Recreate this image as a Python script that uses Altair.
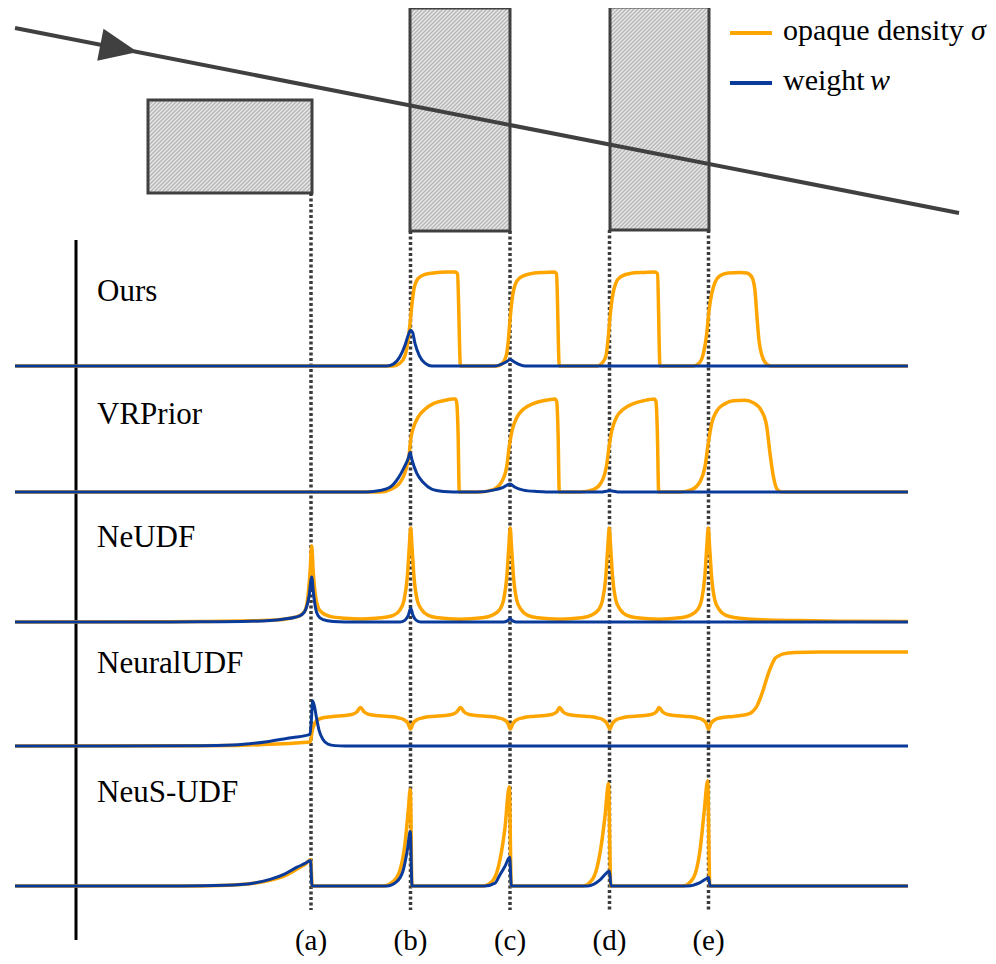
import math
import altair as alt
import pandas as pd

# ---------------- scene data (figure units: x = depth along the ray, y = height, downward) -------------
SURFACE_LABELS = ["(a)", "(b)", "(c)", "(d)", "(e)"]
SURFACE_X = [311, 410.5, 510, 609.5, 708.5]
SURFACE_BOX = [0, 1, 1, 2, 2]          # which box each surface belongs to

BOX_X0 = [148, 410, 610]
BOX_X1 = [312, 510, 709]
BOX_TOP = [100, 8, 7]
BOX_BOTTOM = [193, 231, 230]

RAY_X = [15, 959]
RAY_Y = [28, 213]
ARROW_X = 119

AXIS_X = 76
AXIS_Y = [240, 940]
GUIDE_END = 910
LABEL_BASE_Y = 950

ROW_NAMES = ["Ours", "VRPrior", "NeUDF", "NeuralUDF", "NeuS-UDF"]
ROW_BASE = [366, 492, 622, 746, 886]
ROW_LABEL_X = 97
ROW_LABEL_Y = [301, 424, 547, 673, 802]
AMP = 94  # height of unit density

LEGEND_TEXT = ["opaque density ", "weight "]
LEGEND_SYMBOL = ["σ", "w"]
LEGEND_SYMBOL_X = [971, 870]
LEGEND_Y = [33, 83]
LEGEND_LINE_X = [730, 772]
LEGEND_TEXT_X = 783

# ---------------- curves: (depth, normalized value) ----------------
OURS_SIGMA = [(15, 0), (393, 0), (400, 0.03), (405, 0.11), (408, 0.27), (410, 0.45), (412, 0.66), (414, 0.82),
              (418, 0.93), (425, 0.975), (433, 0.99), (447, 1.0), (455.5, 1.0), (457.5, 0.98), (460.5, 0),
              (497, 0), (502, 0.025), (506, 0.1), (508.3, 0.27), (510, 0.49), (512, 0.7), (515, 0.86), (520, 0.94),
              (530, 0.98), (543, 0.995), (554.5, 1.0), (556.5, 0.98), (559.3, 0),
              (597, 0), (602, 0.03), (606, 0.11), (608.3, 0.31), (610, 0.52), (612.3, 0.73), (615.7, 0.88),
              (620.7, 0.95), (630, 0.985), (643, 0.995), (655, 1.0), (657.5, 0.98), (660, 0),
              (693, 0), (699, 0.03), (703.3, 0.13), (706.7, 0.34), (709, 0.59), (711.7, 0.77), (715, 0.89),
              (720, 0.96), (728.3, 0.99), (740, 0.995), (746.7, 0.99), (751.7, 0.95), (755, 0.8), (756.7, 0.56),
              (759, 0.27), (762.3, 0.1), (766.7, 0.02), (770.7, 0), (908, 0)]
OURS_W = [(15, 0), (386.7, 0), (393.3, 0.02), (400, 0.1), (405, 0.22), (408.3, 0.33), (410.5, 0.38),
          (412.5, 0.36), (415, 0.24), (419.3, 0.11), (425, 0.03), (431.7, 0), (495, 0), (501.7, 0.02),
          (507.3, 0.05), (510, 0.07), (513.3, 0.05), (518.3, 0.02), (525, 0), (908, 0)]

VRPRIOR_SIGMA = [(15, 0), (380, 0), (390, 0.025), (400, 0.1), (406, 0.24), (409.3, 0.41), (410.7, 0.56),
                 (413.3, 0.68), (418.3, 0.8), (425, 0.88), (433.3, 0.94), (443.3, 0.97), (453.3, 0.99),
                 (455.3, 0.99), (456.7, 0.95), (458, 0.66), (459.3, 0),
                 (480, 0), (493.3, 0.025), (501.7, 0.11), (506.7, 0.27), (509.3, 0.49), (512, 0.65), (516.7, 0.79),
                 (523.3, 0.88), (533.3, 0.94), (543.3, 0.97), (555, 0.99), (556.7, 0.96), (558, 0.66), (559.3, 0),
                 (580, 0), (593.3, 0.025), (601.7, 0.11), (606.7, 0.29), (609.3, 0.5), (612, 0.66), (616.7, 0.8),
                 (623.3, 0.88), (633.3, 0.94), (643.3, 0.97), (654.3, 0.99), (656, 0.96), (657.3, 0.66), (658.7, 0),
                 (680, 0), (691.7, 0.025), (700, 0.11), (705, 0.27), (708.3, 0.52), (711.7, 0.73), (716.7, 0.86),
                 (725, 0.94), (733.3, 0.97), (745, 0.975), (753.3, 0.95), (761.7, 0.86), (766.7, 0.7), (770, 0.41),
                 (773.3, 0.17), (777.3, 0.025), (781.7, 0), (908, 0)]
VRPRIOR_W = [(15, 0), (366.7, 0), (380, 0.015), (390, 0.05), (398.3, 0.15), (404, 0.26), (408.3, 0.36),
             (410, 0.42), (412, 0.34), (416.7, 0.2), (423.3, 0.1), (431.7, 0.03), (443.3, 0.005), (453.3, 0),
             (476.7, 0), (493.3, 0.02), (503.3, 0.05), (510, 0.085), (515, 0.05), (523.3, 0.02), (536.7, 0.005),
             (546.7, 0), (600, 0), (610, 0.012), (620, 0), (908, 0)]

NEUDF_SIGMA = [(15, 0), (150, 0.002), (200, 0.005), (250, 0.012), (275, 0.02), (290, 0.04), (300, 0.07),
               (305, 0.12), (308, 0.28), (310, 0.52), (311.7, 0.81), (313.3, 0.52), (315.2, 0.3), (318, 0.16),
               (322, 0.1), (330, 0.06), (345, 0.04), (361, 0.032), (376, 0.04), (385, 0.05), (393.3, 0.07),
               (400, 0.13), (404, 0.23), (407.3, 0.48), (409.3, 0.8), (410.7, 1.0), (412, 0.8), (414, 0.48),
               (417.3, 0.23), (421.7, 0.13), (428.3, 0.07), (438.3, 0.045), (460, 0.03),
               (482, 0.045), (492, 0.07), (499.5, 0.13), (503.5, 0.23), (506.8, 0.48), (508.8, 0.8), (510.2, 1.0),
               (511.5, 0.8), (513.5, 0.48), (516.8, 0.23), (521.2, 0.13), (527.8, 0.07), (537.8, 0.045), (560, 0.03),
               (581, 0.045), (591, 0.07), (598.5, 0.13), (602.5, 0.23), (605.8, 0.48), (607.8, 0.8), (609.3, 1.0),
               (610.6, 0.8), (612.6, 0.48), (615.9, 0.23), (620.3, 0.13), (627, 0.07), (637, 0.045), (659, 0.03),
               (680, 0.045), (690, 0.07), (697.5, 0.13), (701.5, 0.23), (704.8, 0.48), (706.8, 0.8), (708.3, 1.0),
               (709.6, 0.8), (711.6, 0.48), (714.9, 0.23), (719.3, 0.13), (726, 0.07), (736, 0.045), (760, 0.025),
               (800, 0.015), (850, 0.008), (908, 0.005)]
NEUDF_W = [(15, 0), (150, 0), (200, 0.002), (250, 0.008), (283, 0.03), (295, 0.05), (302, 0.08), (306, 0.14),
           (309, 0.27), (311.7, 0.48), (313.5, 0.3), (315.5, 0.15), (318, 0.07), (323, 0.025), (333, 0.005),
           (345, 0), (400, 0), (405, 0.02), (408.3, 0.07), (410.7, 0.145), (413, 0.07), (416, 0.02), (421, 0),
           (504, 0), (508, 0.015), (510, 0.04), (512, 0.015), (516, 0), (908, 0)]

NEURALUDF_SIGMA = [(15, 0), (180, 0.002), (233, 0.005), (267, 0.018), (300, 0.035), (310.5, 0.046), (312, 0.15),
                   (313.5, 0.21), (316.7, 0.27), (323, 0.3), (333, 0.315), (345, 0.325), (353, 0.34), (357, 0.365),
                   (360.5, 0.41), (364, 0.365), (368, 0.34), (376, 0.325), (388, 0.315), (398, 0.3), (404, 0.28),
                   (408, 0.24), (410.5, 0.18), (413, 0.24), (417, 0.28), (423, 0.3), (433, 0.315), (445, 0.325),
                   (453, 0.34), (457, 0.365), (460.5, 0.41), (464, 0.365), (468, 0.34), (476, 0.325), (488, 0.315),
                   (498, 0.3), (504, 0.28), (508, 0.24), (510.3, 0.18), (513, 0.24), (517, 0.28), (523, 0.3),
                   (533, 0.315), (545, 0.325), (553, 0.34), (557, 0.365), (559.5, 0.41), (563, 0.365), (567, 0.34),
                   (575, 0.325), (587, 0.315), (597, 0.3), (603, 0.28), (607, 0.24), (609.8, 0.18), (612.5, 0.24),
                   (616.5, 0.28), (622.5, 0.3), (632.5, 0.315), (644.5, 0.325), (652.5, 0.34), (656.5, 0.365),
                   (659, 0.41), (662.5, 0.365), (666.5, 0.34), (674.5, 0.325), (686.5, 0.315), (696.5, 0.3),
                   (702.5, 0.28), (706.3, 0.24), (708.5, 0.18), (711, 0.24), (715, 0.28), (721, 0.3), (733, 0.315),
                   (746.7, 0.335), (752, 0.36), (756.7, 0.42), (760, 0.5), (763.3, 0.6), (768.3, 0.77), (772, 0.87),
                   (775, 0.93), (779, 0.96), (783.3, 0.98), (795, 0.995), (820, 1.0), (908, 1.0)]
NEURALUDF_W = [(15, 0), (200, 0.002), (233, 0.01), (267, 0.046), (293, 0.09), (305, 0.11), (310, 0.125),
               (311.5, 0.3), (312.7, 0.48), (314.5, 0.42), (316.5, 0.3), (319, 0.17), (323, 0.07), (328, 0.02),
               (335, 0.004), (345, 0), (908, 0)]

NEUSUDF_SIGMA = [(15, 0), (180, 0), (220, 0.006), (250, 0.025), (270, 0.06), (285, 0.11), (297, 0.18),
                 (305, 0.23), (310.7, 0.28), (312.2, 0), (383, 0), (393, 0.046), (400, 0.17), (405, 0.45),
                 (408.3, 0.81), (410.3, 1.03), (412, 0), (483, 0), (493, 0.06), (500, 0.28), (505, 0.62),
                 (509.3, 1.057), (511.3, 0), (583, 0), (593, 0.08), (600, 0.35), (605, 0.74), (608.5, 1.09),
                 (610.8, 0), (683, 0), (693, 0.08), (700, 0.38), (704, 0.77), (707.7, 1.12), (709.8, 0), (908, 0)]
NEUSUDF_W = [(15, 0), (180, 0), (225, 0.008), (253, 0.03), (270, 0.07), (285, 0.13), (297, 0.2), (305, 0.24),
             (310.5, 0.27), (312, 0), (386.7, 0), (396.7, 0.046), (403.3, 0.17), (407.3, 0.38), (410.3, 0.58),
             (412, 0), (485, 0), (495, 0.03), (500, 0.12), (505, 0.21), (509.7, 0.305), (511.3, 0), (588, 0),
             (600, 0.064), (606.7, 0.14), (609.5, 0.16), (611, 0), (688, 0), (700, 0.035), (706.7, 0.08),
             (708.7, 0.09), (710, 0), (908, 0)]

CURVES = {
    "Ours": (OURS_SIGMA, OURS_W),
    "VRPrior": (VRPRIOR_SIGMA, VRPRIOR_W),
    "NeUDF": (NEUDF_SIGMA, NEUDF_W),
    "NeuralUDF": (NEURALUDF_SIGMA, NEURALUDF_W),
    "NeuS-UDF": (NEUSUDF_SIGMA, NEUSUDF_W),
}

ORANGE = "#FFA500"
BLUE = "#0A3A9A"
DARK = "#404040"
FONT = "Liberation Serif"

# ---------------- build tables ----------------
rows = []
for name, base in zip(ROW_NAMES, ROW_BASE):
    for kind, pts in zip(["sigma", "w"], CURVES[name]):
        for i, (d, v) in enumerate(pts):
            rows.append({"row": name, "kind": kind, "x": d, "y": base - v * AMP, "i": i})
curves = pd.DataFrame(rows)

X = alt.X("x:Q", scale=alt.Scale(domain=[8, 988], nice=False, zero=False), axis=None)
Y = alt.Y("y:Q", scale=alt.Scale(domain=[8, 956], nice=False, zero=False, reverse=True), axis=None)

layers = []

# hatched boxes: soft diagonal stripes along x+y = const, period of 4 px in (x+y)
for x0, x1, t, b in zip(BOX_X0, BOX_X1, BOX_TOP, BOX_BOTTOM):
    w, h = x1 - x0, b - t
    n = int(math.ceil((w + h) / 4.0))
    k = 4.0 * n * h / (w * w + h * h)
    stops = []
    for j in range(n):
        stops += [alt.GradientStop(offset=j / n, color="#e8e8e8"),
                  alt.GradientStop(offset=(j + 0.5) / n, color="#b6b6b6")]
    stops.append(alt.GradientStop(offset=1, color="#e8e8e8"))
    grad = alt.LinearGradient(gradient="linear", stops=stops, x1=0, y1=0, x2=k * w / h, y2=k)
    box = pd.DataFrame({"x": [x0], "x2": [x1], "y": [t], "y2": [b]})
    layers.append(alt.Chart(box).mark_rect(fill=grad, stroke=DARK, strokeWidth=3).encode(
        x=X, x2="x2:Q", y=Y, y2="y2:Q"))

# ray + arrow
ray = pd.DataFrame({"x": [RAY_X[0]], "x2": [RAY_X[1]], "y": [RAY_Y[0]], "y2": [RAY_Y[1]]})
layers.append(alt.Chart(ray).mark_rule(color=DARK, strokeWidth=4, size=4).encode(
    x=X, x2="x2:Q", y=Y, y2="y2:Q"))
slope = (RAY_Y[1] - RAY_Y[0]) / (RAY_X[1] - RAY_X[0])
arrow = pd.DataFrame({"x": [ARROW_X], "y": [RAY_Y[0] + (ARROW_X - RAY_X[0]) * slope]})
layers.append(alt.Chart(arrow).mark_point(shape="M -1 -0.86 L 1 0 L -1 0.86 Z", filled=True, size=1444,
                                          angle=math.degrees(math.atan(slope)), color=DARK, opacity=1,
                                          strokeWidth=0).encode(x=X, y=Y))

# dotted guides
guides = pd.DataFrame({"x": SURFACE_X, "y": [BOX_BOTTOM[i] for i in SURFACE_BOX],
                       "y2": [GUIDE_END] * len(SURFACE_X)})
layers.append(alt.Chart(guides).mark_rule(color="#3a3a3a", strokeWidth=3.5, size=3.5,
                                          strokeDash=[3, 2.5]).encode(x=X, y=Y, y2="y2:Q"))

# vertical axis line
axis_df = pd.DataFrame({"x": [AXIS_X], "y": [AXIS_Y[0]], "y2": [AXIS_Y[1]]})
layers.append(alt.Chart(axis_df).mark_rule(color="black", strokeWidth=3, size=3).encode(x=X, y=Y, y2="y2:Q"))

# curves
layers.append(alt.Chart(curves).transform_filter(alt.datum.kind == "sigma").mark_line(
    color=ORANGE, strokeWidth=3.5, interpolate="monotone", strokeJoin="round").encode(
    x=X, y=Y, detail="row:N", order="i:Q"))
layers.append(alt.Chart(curves).transform_filter(alt.datum.kind == "w").mark_line(
    color=BLUE, strokeWidth=3, interpolate="monotone", strokeJoin="round").encode(
    x=X, y=Y, detail="row:N", order="i:Q"))

# row labels
lab = pd.DataFrame({"x": [ROW_LABEL_X] * 5, "y": ROW_LABEL_Y, "t": ROW_NAMES})
layers.append(alt.Chart(lab).mark_text(font=FONT, fontSize=31, align="left", baseline="alphabetic",
                                       color="black").encode(x=X, y=Y, text="t:N"))

# surface labels
slab = pd.DataFrame({"x": SURFACE_X, "y": [LABEL_BASE_Y] * 5, "t": SURFACE_LABELS})
layers.append(alt.Chart(slab).mark_text(font=FONT, fontSize=29, align="center", baseline="alphabetic",
                                        color="black").encode(x=X, y=Y, text="t:N"))

# legend
leg_lines = pd.DataFrame({"x": [LEGEND_LINE_X[0]] * 2, "x2": [LEGEND_LINE_X[1]] * 2, "y": LEGEND_Y,
                          "c": [ORANGE, BLUE]})
layers.append(alt.Chart(leg_lines).mark_rule(strokeWidth=4, size=4).encode(
    x=X, x2="x2:Q", y=Y, color=alt.Color("c:N", scale=None)))
leg_text = pd.DataFrame({"x": [LEGEND_TEXT_X] * 2, "y": [v + 7 for v in LEGEND_Y], "t": LEGEND_TEXT})
layers.append(alt.Chart(leg_text).mark_text(font=FONT, fontSize=30, align="left", baseline="alphabetic",
                                            color="black").encode(x=X, y=Y, text="t:N"))
leg_sym = pd.DataFrame({"x": LEGEND_SYMBOL_X, "y": [v + 7 for v in LEGEND_Y], "t": LEGEND_SYMBOL})
layers.append(alt.Chart(leg_sym).mark_text(font=FONT, fontSize=30, fontStyle="italic", align="left",
                                           baseline="alphabetic", color="black").encode(x=X, y=Y, text="t:N"))

chart = alt.layer(*layers).properties(width=980, height=948, padding=0, autosize="none",
                                      background="white").configure_view(stroke=None)

chart.save("out.html", embed_options={"renderer": "svg", "actions": False})
